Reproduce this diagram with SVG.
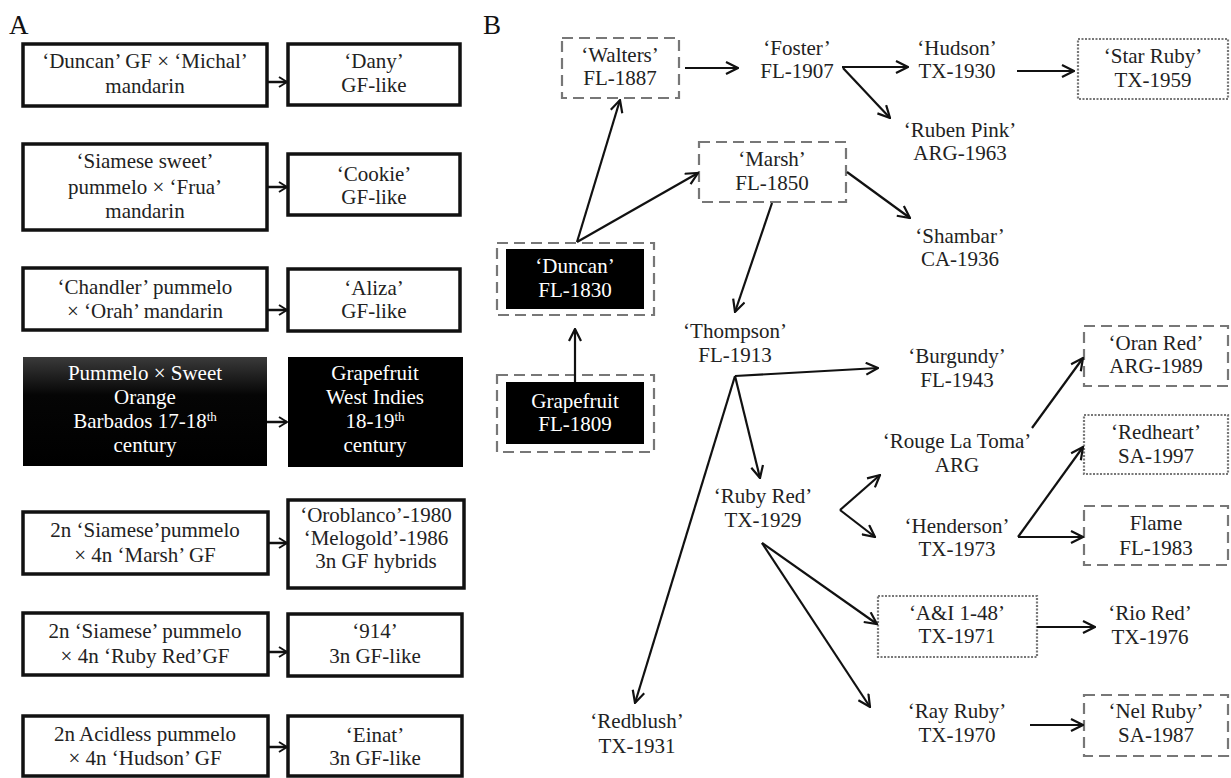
<svg xmlns="http://www.w3.org/2000/svg" width="1231" height="778" viewBox="0 0 1231 778">
<defs>
<style>
text{font-family:"Liberation Serif","Times New Roman",serif;font-size:21px;fill:#222;text-anchor:middle}
.w{fill:#fff}
.lbl{font-size:27px;text-anchor:start;fill:#111}
.boxA{fill:#fff;stroke:#111;stroke-width:3.5}
.blk{fill:#000}
.dash{fill:none;stroke:#777;stroke-width:2.2;stroke-dasharray:11 6}
.dot{fill:none;stroke:#777;stroke-width:2.2;stroke-dasharray:2 1.5}
.ca{fill:none;stroke:#111;stroke-width:2.5;marker-end:url(#ma)}
.cb{fill:none;stroke:#111;stroke-width:2.2;marker-end:url(#mb)}
.sup{font-size:13px}
</style>
<linearGradient id="g1" x1="0" y1="0" x2="0" y2="1">
<stop offset="0" stop-color="#3a3a3a"/>
<stop offset="0.35" stop-color="#050505"/>
<stop offset="1" stop-color="#000"/>
</linearGradient>
<marker id="ma" viewBox="0 0 10 12" refX="9" refY="6" markerWidth="10" markerHeight="12" markerUnits="userSpaceOnUse" orient="auto">
<path d="M1,1 L9,6 L1,11" fill="none" stroke="#111" stroke-width="2"/>
</marker>
<marker id="mb" viewBox="0 0 14 14" refX="13" refY="7" markerWidth="14" markerHeight="14" markerUnits="userSpaceOnUse" orient="auto">
<path d="M1,1 L13,7 L1,13" fill="none" stroke="#111" stroke-width="2.2"/>
</marker>
</defs>
<rect width="1231" height="778" fill="#fff"/>
<text class="lbl" x="9" y="34">A</text>
<text class="lbl" x="483" y="34">B</text>

<!-- Panel A -->
<g id="a1l"><rect class="boxA" x="23" y="44" width="244" height="62"/><text x="145" y="68">&#8216;Duncan&#8217; GF × &#8216;Michal&#8217;</text><text x="145" y="93">mandarin</text></g>
<g id="a1r"><rect class="boxA" x="288" y="44" width="172" height="61"/><text x="374" y="68">&#8216;Dany&#8217;</text><text x="374" y="92">GF-like</text></g>
<g id="a2l"><rect class="boxA" x="23" y="144" width="244" height="86"/><text x="145" y="168">&#8216;Siamese sweet&#8217;</text><text x="145" y="194">pummelo  × &#8216;Frua&#8217;</text><text x="145" y="218">mandarin</text></g>
<g id="a2r"><rect class="boxA" x="288" y="154" width="172" height="61"/><text x="374" y="181">&#8216;Cookie&#8217;</text><text x="374" y="204">GF-like</text></g>
<g id="a3l"><rect class="boxA" x="23" y="268" width="244" height="62"/><text x="145" y="294">&#8216;Chandler&#8217; pummelo</text><text x="145" y="318">× &#8216;Orah&#8217; mandarin</text></g>
<g id="a3r"><rect class="boxA" x="288" y="269" width="172" height="62"/><text x="374" y="295">&#8216;Aliza&#8217;</text><text x="374" y="318">GF-like</text></g>
<g id="a4l"><rect x="23" y="357" width="244" height="109" fill="url(#g1)"/><text class="w" x="145" y="380">Pummelo × Sweet</text><text class="w" x="145" y="404">Orange</text><text class="w" x="145" y="428">Barbados  17-18<tspan class="sup" dy="-7">th</tspan></text><text class="w" x="145" y="452">century</text></g>
<g id="a4r"><rect class="blk" x="288" y="357" width="175" height="110"/><text class="w" x="375" y="380">Grapefruit</text><text class="w" x="375" y="404">West Indies</text><text class="w" x="375" y="428">18-19<tspan class="sup" dy="-7">th</tspan></text><text class="w" x="375" y="452">century</text></g>
<g id="a5l"><rect class="boxA" x="23" y="512" width="245" height="62"/><text x="145" y="537">2n &#8216;Siamese&#8217;pummelo</text><text x="145" y="562">× 4n &#8216;Marsh&#8217; GF</text></g>
<g id="a5r"><rect class="boxA" x="288" y="500" width="176" height="88"/><text x="376" y="522">&#8216;Oroblanco&#8217;-1980</text><text x="376" y="545">&#8216;Melogold&#8217;-1986</text><text x="376" y="568">3n GF hybrids</text></g>
<g id="a6l"><rect class="boxA" x="23" y="613" width="245" height="62"/><text x="145" y="638">2n &#8216;Siamese&#8217; pummelo</text><text x="145" y="663">× 4n &#8216;Ruby Red&#8217;GF</text></g>
<g id="a6r"><rect class="boxA" x="288" y="614" width="174" height="62"/><text x="375" y="638">&#8216;914&#8217;</text><text x="375" y="663">3n GF-like</text></g>
<g id="a7l"><rect class="boxA" x="23" y="716" width="245" height="60"/><text x="145" y="741">2n Acidless pummelo</text><text x="145" y="765">× 4n &#8216;Hudson&#8217; GF</text></g>
<g id="a7r"><rect class="boxA" x="288" y="716" width="174" height="60"/><text x="375" y="742">&#8216;Einat&#8217;</text><text x="375" y="765">3n GF-like</text></g>

<!-- Panel B nodes -->
<g id="walters"><rect class="dash" x="562" y="38" width="117" height="60"/><text x="620" y="62">&#8216;Walters&#8217;</text><text x="620" y="85">FL-1887</text></g>
<g id="foster"><text x="797" y="55">&#8216;Foster&#8217;</text><text x="797" y="78">FL-1907</text></g>
<g id="hudson"><text x="957" y="55">&#8216;Hudson&#8217;</text><text x="957" y="78">TX-1930</text></g>
<g id="starruby"><rect class="dot" x="1078" y="39" width="150" height="60"/><text x="1153" y="63">&#8216;Star Ruby&#8217;</text><text x="1153" y="87">TX-1959</text></g>
<g id="rubenpink"><text x="960" y="137">&#8216;Ruben Pink&#8217;</text><text x="960" y="160">ARG-1963</text></g>
<g id="marsh"><rect class="dash" x="699" y="142" width="147" height="60"/><text x="772" y="166">&#8216;Marsh&#8217;</text><text x="772" y="190">FL-1850</text></g>
<g id="shambar"><text x="960" y="243">&#8216;Shambar&#8217;</text><text x="960" y="266">CA-1936</text></g>
<g id="duncan"><rect class="dash" x="497" y="243" width="157" height="72"/><rect class="blk" x="506" y="249" width="138" height="60"/><text class="w" x="575" y="273">&#8216;Duncan&#8217;</text><text class="w" x="575" y="297">FL-1830</text></g>
<g id="grapefruit"><rect class="dash" x="497" y="375" width="157" height="77"/><rect class="blk" x="506" y="382" width="138" height="62"/><text class="w" x="575" y="408">Grapefruit</text><text class="w" x="575" y="431">FL-1809</text></g>
<g id="thompson"><text x="735" y="338">&#8216;Thompson&#8217;</text><text x="735" y="362">FL-1913</text></g>
<g id="burgundy"><text x="957" y="363">&#8216;Burgundy&#8217;</text><text x="957" y="387">FL-1943</text></g>
<g id="rouge"><text x="957" y="448">&#8216;Rouge La Toma&#8217;</text><text x="957" y="472">ARG</text></g>
<g id="henderson"><text x="957" y="533">&#8216;Henderson&#8217;</text><text x="957" y="556">TX-1973</text></g>
<g id="oranred"><rect class="dash" x="1084" y="326" width="144" height="60"/><text x="1156" y="350">&#8216;Oran Red&#8217;</text><text x="1156" y="373">ARG-1989</text></g>
<g id="redheart"><rect class="dot" x="1084" y="415" width="144" height="59"/><text x="1156" y="439">&#8216;Redheart&#8217;</text><text x="1156" y="463">SA-1997</text></g>
<g id="flame"><rect class="dash" x="1084" y="506" width="144" height="59"/><text x="1156" y="530">Flame</text><text x="1156" y="555">FL-1983</text></g>
<g id="rubyred"><text x="763" y="503">&#8216;Ruby Red&#8217;</text><text x="763" y="527">TX-1929</text></g>
<g id="ai148"><rect class="dot" x="878" y="596" width="159" height="61"/><text x="957" y="620">&#8216;A&amp;I 1-48&#8217;</text><text x="957" y="643">TX-1971</text></g>
<g id="riored"><text x="1150" y="620">&#8216;Rio Red&#8217;</text><text x="1150" y="644">TX-1976</text></g>
<g id="rayruby"><text x="957" y="718">&#8216;Ray Ruby&#8217;</text><text x="957" y="742">TX-1970</text></g>
<g id="nelruby"><rect class="dash" x="1084" y="695" width="144" height="61"/><text x="1156" y="718">&#8216;Nel Ruby&#8217;</text><text x="1156" y="742">SA-1987</text></g>
<g id="redblush"><text x="637" y="728">&#8216;Redblush&#8217;</text><text x="637" y="753">TX-1931</text></g>

<!-- Connectors -->
<g id="connectors">
<line class="ca" x1="267" y1="82" x2="287" y2="82"/>
<line class="ca" x1="267" y1="187" x2="287" y2="187"/>
<line class="ca" x1="267" y1="310" x2="287" y2="310"/>
<line class="ca" x1="267" y1="422" x2="287" y2="422"/>
<line class="ca" x1="268" y1="543" x2="287" y2="543"/>
<line class="ca" x1="268" y1="652" x2="287" y2="652"/>
<line class="ca" x1="268" y1="747" x2="287" y2="747"/>

<line class="cb" x1="685" y1="68" x2="738" y2="68"/>
<line class="cb" x1="842" y1="67" x2="908" y2="67"/>
<line class="cb" x1="843" y1="68" x2="890" y2="118"/>
<line class="cb" x1="1017" y1="71" x2="1074" y2="71"/>
<line class="cb" x1="577" y1="242" x2="620" y2="100"/>
<line class="cb" x1="577" y1="242" x2="698" y2="173"/>
<line class="cb" x1="847" y1="172" x2="910" y2="218"/>
<line class="cb" x1="772" y1="203" x2="735" y2="312"/>
<line class="cb" x1="575" y1="382" x2="575" y2="329"/>
<line class="cb" x1="735" y1="376" x2="878" y2="368"/>
<line class="cb" x1="735" y1="376" x2="635" y2="703"/>
<line class="cb" x1="735" y1="376" x2="760" y2="478"/>
<line class="cb" x1="840" y1="510" x2="880" y2="475"/>
<line class="cb" x1="840" y1="510" x2="875" y2="537"/>
<line class="cb" x1="1032" y1="428" x2="1083" y2="358"/>
<line class="cb" x1="1018" y1="537" x2="1083" y2="447"/>
<line class="cb" x1="1018" y1="537" x2="1083" y2="537"/>
<line class="cb" x1="762" y1="543" x2="877" y2="624"/>
<line class="cb" x1="762" y1="543" x2="870" y2="707"/>
<line class="cb" x1="1037" y1="627" x2="1095" y2="627"/>
<line class="cb" x1="1030" y1="725" x2="1083" y2="725"/>
</g>
</svg>
